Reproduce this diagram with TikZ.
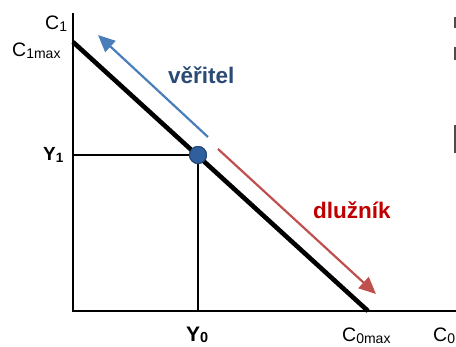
\documentclass[tikz,border=0pt]{standalone}
\usepackage{fontspec}
\setmainfont{Liberation Sans}
\usetikzlibrary{arrows.meta}
\definecolor{arrblue}{HTML}{4A7EBB}
\definecolor{txtblue}{HTML}{2B4A76}
\definecolor{arrred}{HTML}{C0504D}
\definecolor{txtred}{HTML}{C00000}
\definecolor{dotblue}{HTML}{2F5F9C}
\definecolor{dotedge}{HTML}{24477A}
\newcommand{\lowsub}[2]{\raisebox{-1.5pt}{\fontsize{#1}{#1}\selectfont #2}}
\tikzset{
  axis/.style={line width=2.6pt, black},
  guide/.style={line width=2.2pt, black},
  budget/.style={line width=4.6pt, black},
  lbl/.style={inner sep=0pt, anchor=base west, font=\fontsize{19.5}{20}\selectfont},
  ylbl/.style={inner sep=0pt, anchor=base west, font=\bfseries\fontsize{19}{20}\selectfont},
  ylblb/.style={inner sep=0pt, anchor=base west, font=\bfseries\fontsize{21}{22}\selectfont},
  bluearr/.style={line width=2.2pt, arrblue, -{Triangle[length=17pt,width=15pt]}},
  redarr/.style={line width=2.2pt, arrred, -{Triangle[length=17pt,width=15pt]}},
  word/.style={inner sep=0pt, anchor=base west, font=\bfseries\fontsize{22.5}{24}\selectfont},
  dot/.style={circle, fill=dotblue, draw=dotedge, line width=1pt, minimum size=17pt, inner sep=0pt},
  edgebar/.style={line width=1.6pt, black!70}
}
\begin{document}
\begin{tikzpicture}[x=1pt,y=-1pt]
\useasboundingbox (0,0) rectangle (456,347);
\coordinate (O) at (73,311);
\coordinate (ytop) at (73,13);
\coordinate (xend) at (457,311);
\coordinate (c1m) at (73,42);
\coordinate (c0m) at (368,311);
\coordinate (y1a) at (73,155);
\coordinate (y0a) at (198,311);
\coordinate (bs) at (208,137);
\coordinate (be) at (98,35);
\coordinate (rs) at (218,149);
\coordinate (re) at (376,294);
% axes
\draw[axis] (ytop) -- (O) -- (xend);
% guides
\node[dot] (P) at (198,155) {};
\draw[guide] (y1a) -- (P.center) -- (y0a);
% budget line
\draw[budget, line cap=butt] (c1m) -- (c0m);
\node[dot] (P2) at (P) {};
% arrows
\draw[bluearr] (bs) -- (be);
\draw[redarr] (rs) -- (re);
% labels
\node[lbl] (lc1) at (45,30) {C\lowsub{14}{1}};
\node[lbl] (lc1m) at (12,57) {C\lowsub{14}{1max}};
\node[ylbl] (ly1) at (43,161) {Y\lowsub{13.5}{1}};
\node[ylblb] (ly0) at (186,342) {Y\raisebox{-0.5pt}{\fontsize{14.5}{15}\selectfont 0}};
\node[lbl] (lc0m) at (342,342) {C\lowsub{14}{0max}};
\node[lbl] (lc0) at (433,342) {C\lowsub{14}{0}};
\node[word, text=txtblue] (wv) at (168,84) {věřitel};
\node[word, text=txtred] (wd) at (313,219) {dlužník};
% cut-off fragments at the right edge
\coordinate (f1a) at (455,17); \coordinate (f1b) at (455,28);
\coordinate (f2a) at (455,47); \coordinate (f2b) at (455,60);
\coordinate (f3a) at (455,125); \coordinate (f3b) at (455,153);
\draw[edgebar] (f1a) -- (f1b);
\draw[edgebar] (f2a) -- (f2b);
\draw[edgebar] (f3a) -- (f3b);
\end{tikzpicture}
\end{document}
